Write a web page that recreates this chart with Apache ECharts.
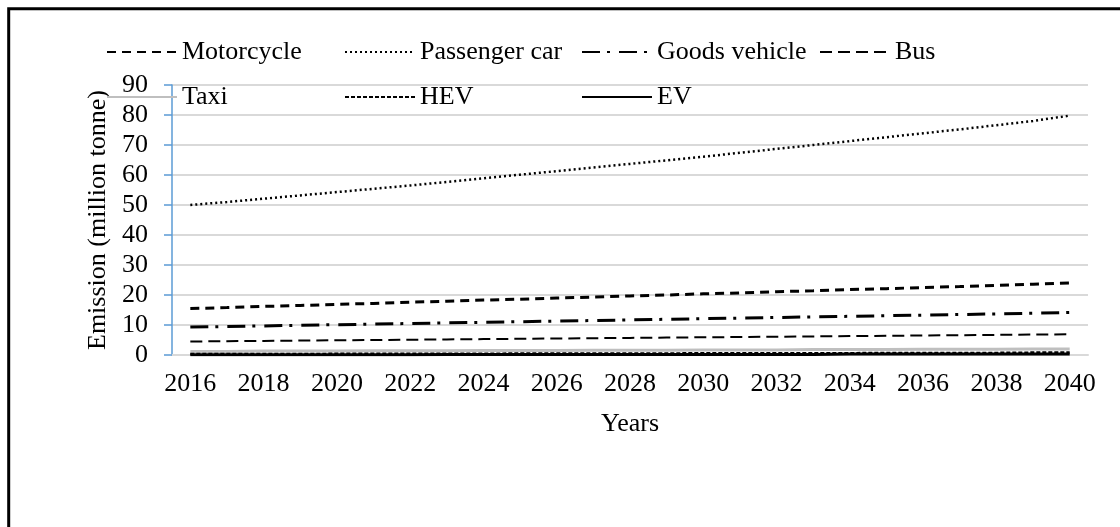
<!DOCTYPE html>
<html lang="en">
<head>
  <meta charset="UTF-8">
  <title>Emission projection</title>
  <script src="https://cdn.jsdelivr.net/npm/echarts@6/dist/echarts.min.js"></script>
  <style>
    html, body { margin: 0; padding: 0; background: #fff; }
  </style>
</head>
<body>
<div id="demo1" style="width: 1120px;height: 527px"></div>
</body>
<script>

  var demo1 = echarts.init(document.getElementById('demo1'));

  var years = ['2016', '2017', '2018', '2019', '2020', '2021', '2022', '2023', '2024', '2025', '2026', '2027', '2028',
    '2029', '2030', '2031', '2032', '2033', '2034', '2035', '2036', '2037', '2038', '2039', '2040'];
  var motorcycle = [15.5, 15.8, 16.2, 16.5, 16.9, 17.2, 17.6, 17.9, 18.3, 18.6, 19.0, 19.3, 19.7, 20.0, 20.4, 20.7, 21.1, 21.4, 21.8, 22.1, 22.5, 22.8, 23.2, 23.6, 24.0];
  var passengerCar = [50.0, 51.0, 52.1, 53.2, 54.3, 55.4, 56.5, 57.7, 58.9, 60.1, 61.3, 62.5, 63.7, 64.9, 66.1, 67.4, 68.7, 70.0, 71.3, 72.6, 73.9, 75.2, 76.6, 78.0, 79.8];
  var goodsVehicle = [9.3, 9.5, 9.7, 9.9, 10.1, 10.3, 10.5, 10.7, 10.9, 11.1, 11.3, 11.5, 11.7, 11.9, 12.1, 12.3, 12.5, 12.7, 12.9, 13.1, 13.3, 13.5, 13.7, 13.9, 14.2];
  var bus = [4.5, 4.6, 4.7, 4.8, 4.9, 5.0, 5.1, 5.2, 5.3, 5.4, 5.5, 5.6, 5.7, 5.8, 5.9, 6.0, 6.1, 6.2, 6.3, 6.4, 6.5, 6.6, 6.7, 6.8, 6.9];
  var taxi = [1.2, 1.2, 1.3, 1.3, 1.3, 1.4, 1.4, 1.4, 1.5, 1.5, 1.5, 1.6, 1.6, 1.6, 1.7, 1.7, 1.7, 1.8, 1.8, 1.8, 1.9, 1.9, 1.9, 2.0, 2.0];
  var hev = [0.3, 0.3, 0.3, 0.3, 0.4, 0.4, 0.4, 0.4, 0.4, 0.5, 0.5, 0.5, 0.5, 0.5, 0.6, 0.6, 0.6, 0.6, 0.6, 0.7, 0.7, 0.7, 0.7, 0.8, 0.8];
  var ev = [0.1, 0.1, 0.1, 0.1, 0.1, 0.1, 0.1, 0.2, 0.2, 0.2, 0.2, 0.2, 0.2, 0.2, 0.2, 0.2, 0.2, 0.2, 0.3, 0.3, 0.3, 0.3, 0.3, 0.3, 0.3];

  var font = 'Liberation Serif';
  var gridGray = '#d9d9d9';
  var axisBlue = '#5B9BD5';

  function legendCol(left, names) {
    return {
      orient: 'vertical',
      left: left,
      top: 34,
      data: names,
      itemWidth: 70,
      itemHeight: 14,
      itemGap: 19,
      itemStyle: {opacity: 0}, // hide the marker dot, keep only the line sample
      textStyle: {fontFamily: font, fontSize: 26, color: '#000', lineHeight: 26}
    };
  }

  function line(name, data, color, width, dash, z) {
    return {
      name: name,
      type: 'line',
      data: data,
      symbol: 'none',
      z: z,
      lineStyle: {color: color, width: width, type: dash},
      itemStyle: {color: color}
    };
  }

  option = {
    animation: false,
    backgroundColor: '#fff',
    graphic: [
      { // outer frame of the figure
        type: 'rect',
        shape: {x: 8.7, y: 8.7, width: 1200, height: 600},
        style: {fill: 'none', stroke: '#000', lineWidth: 3},
        silent: true
      }
    ],
    legend: [
      legendCol(101, ['Motorcycle', 'Taxi']),
      legendCol(339, ['Passenger car', 'HEV']),
      legendCol(576, ['Goods vehicle', 'EV']),
      legendCol(814, ['Bus'])
    ],
    grid: {left: 172, right: 32, top: 85, bottom: 172},
    xAxis: {
      type: 'category',
      data: years,
      name: 'Years',
      nameLocation: 'middle',
      nameGap: 56,
      nameTextStyle: {fontFamily: font, fontSize: 26, color: '#000'},
      axisLine: {lineStyle: {color: gridGray, width: 2}},
      axisTick: {interval: 1, length: 7, lineStyle: {color: gridGray, width: 2}},
      axisLabel: {interval: 1, margin: 16, fontFamily: font, fontSize: 26, color: '#000'}
    },
    yAxis: {
      type: 'value',
      min: 0,
      max: 90,
      interval: 10,
      name: 'Emission (million tonne)',
      nameLocation: 'middle',
      nameGap: 59,
      nameTextStyle: {fontFamily: font, fontSize: 26, color: '#000'},
      axisLine: {show: true, lineStyle: {color: axisBlue, width: 1.5}},
      axisTick: {show: true, length: 8, lineStyle: {color: axisBlue, width: 1.5}},
      axisLabel: {margin: 24, fontFamily: font, fontSize: 26, color: '#000'},
      splitLine: {lineStyle: {color: gridGray, width: 2}}
    },
    series: [
      line('Taxi', taxi, '#bfbfbf', 3, 'solid', 2),
      line('Motorcycle', motorcycle, '#000', 3, [9, 6], 3),
      line('Passenger car', passengerCar, '#000', 2.5, [2, 3], 3),
      line('Goods vehicle', goodsVehicle, '#000', 3, [18, 7, 3, 9], 3),
      line('Bus', bus, '#000', 2, [12, 6], 3),
      line('HEV', hev, '#000', 2.5, [4, 2], 3),
      line('EV', ev, '#000', 3, 'solid', 4)
    ]
  };

  demo1.setOption(option);

</script>
</html>
